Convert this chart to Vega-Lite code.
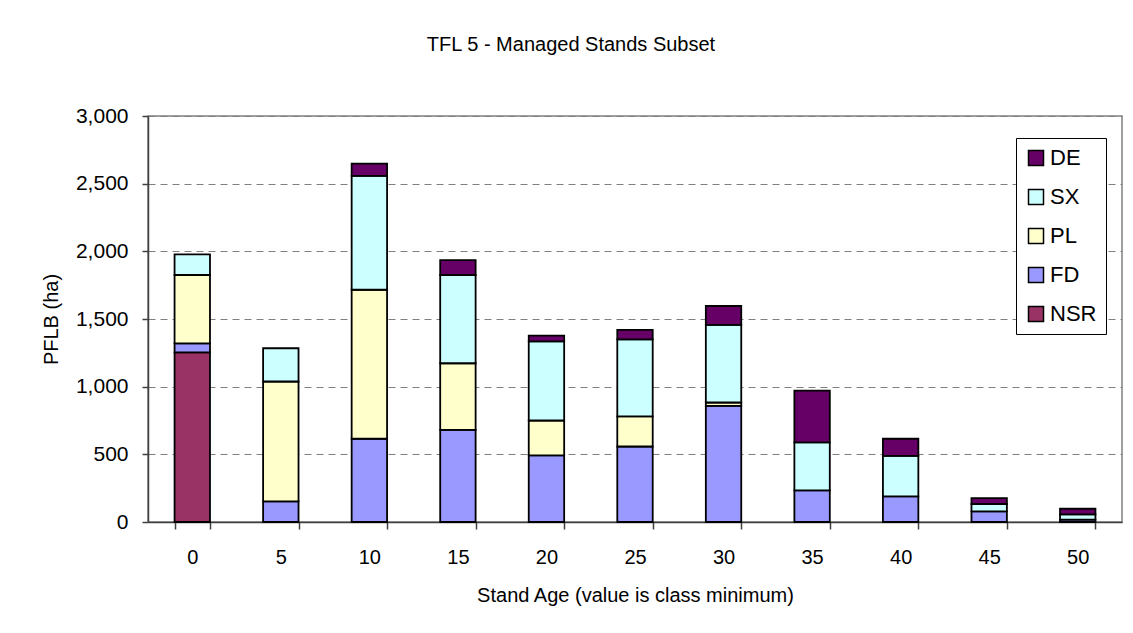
{
  "$schema": "https://vega.github.io/schema/vega-lite/v6.json",
  "autosize": {"type": "none"},
  "padding": {"left": 148, "top": 116, "right": 11, "bottom": 111},
  "width": 974,
  "height": 406,
  "background": "white",
  "config": {
    "font": "Liberation Sans",
    "view": {"stroke": "#808080", "strokeWidth": 1.5},
    "axis": {
      "labelFont": "Liberation Sans",
      "titleFont": "Liberation Sans",
      "labelColor": "black",
      "titleColor": "black",
      "titleFontWeight": "normal",
      "domainColor": "#404040",
      "domainWidth": 1.5,
      "tickColor": "#404040",
      "tickWidth": 1.5
    },
    "legend": {"labelFont": "Liberation Sans"}
  },
  "title": {
    "text": "TFL 5 - Managed Stands Subset",
    "font": "Liberation Sans",
    "fontSize": 20,
    "fontWeight": "normal",
    "color": "black",
    "frame": "group",
    "anchor": "middle",
    "dx": -64,
    "baseline": "alphabetic",
    "offset": 34
  },
  "data": {
    "values": [
      {"age": 0, "species": "NSR", "area": 1254},
      {"age": 0, "species": "FD", "area": 66},
      {"age": 0, "species": "PL", "area": 505},
      {"age": 0, "species": "SX", "area": 152},
      {"age": 5, "species": "FD", "area": 152},
      {"age": 5, "species": "PL", "area": 886},
      {"age": 5, "species": "SX", "area": 246},
      {"age": 10, "species": "FD", "area": 615},
      {"age": 10, "species": "PL", "area": 1101},
      {"age": 10, "species": "SX", "area": 841},
      {"age": 10, "species": "DE", "area": 91},
      {"age": 15, "species": "FD", "area": 681},
      {"age": 15, "species": "PL", "area": 492},
      {"age": 15, "species": "SX", "area": 652},
      {"age": 15, "species": "DE", "area": 110},
      {"age": 20, "species": "FD", "area": 492},
      {"age": 20, "species": "PL", "area": 258},
      {"age": 20, "species": "SX", "area": 585},
      {"age": 20, "species": "DE", "area": 42},
      {"age": 25, "species": "FD", "area": 558},
      {"age": 25, "species": "PL", "area": 222},
      {"age": 25, "species": "SX", "area": 570},
      {"age": 25, "species": "DE", "area": 69},
      {"age": 30, "species": "FD", "area": 858},
      {"age": 30, "species": "PL", "area": 25},
      {"age": 30, "species": "SX", "area": 573},
      {"age": 30, "species": "DE", "area": 140},
      {"age": 35, "species": "FD", "area": 234},
      {"age": 35, "species": "SX", "area": 354},
      {"age": 35, "species": "DE", "area": 383},
      {"age": 40, "species": "FD", "area": 189},
      {"age": 40, "species": "SX", "area": 300},
      {"age": 40, "species": "DE", "area": 126},
      {"age": 45, "species": "FD", "area": 78},
      {"age": 45, "species": "SX", "area": 55},
      {"age": 45, "species": "DE", "area": 44},
      {"age": 50, "species": "FD", "area": 17},
      {"age": 50, "species": "SX", "area": 39},
      {"age": 50, "species": "DE", "area": 42}
    ]
  },
  "transform": [
    {"calculate": "indexof(['NSR','FD','PL','SX','DE'], datum.species)", "as": "stackOrder"}
  ],
  "mark": {"type": "bar", "stroke": "black", "strokeWidth": 1.8, "opacity": 1},
  "encoding": {
    "x": {
      "field": "age",
      "type": "ordinal",
      "title": "Stand Age (value is class minimum)",
      "scale": {"paddingInner": 0.6, "paddingOuter": 0.3},
      "axis": {
        "labelAngle": 0,
        "labelFontSize": 20,
        "titleFontSize": 20,
        "tickBand": "extent",
        "tickSize": 7,
        "labelPadding": 18,
        "titlePadding": 18
      }
    },
    "y": {
      "field": "area",
      "type": "quantitative",
      "stack": "zero",
      "title": "PFLB (ha)",
      "scale": {"domain": [0, 3000], "nice": false},
      "axis": {
        "values": [0, 500, 1000, 1500, 2000, 2500, 3000],
        "format": ",.0f",
        "labelFontSize": 21,
        "titleFontSize": 20,
        "tickSize": 6,
        "labelPadding": 14,
        "titlePadding": 14,
        "grid": true,
        "gridColor": "#808080",
        "gridDash": [7, 5],
        "gridWidth": 1
      }
    },
    "color": {
      "field": "species",
      "type": "nominal",
      "scale": {
        "domain": ["DE", "SX", "PL", "FD", "NSR"],
        "range": ["#660066", "#CCFFFF", "#FFFFCC", "#9999FF", "#993366"]
      },
      "legend": {
        "title": null,
        "orient": "none",
        "legendX": 868,
        "legendY": 22,
        "symbolType": "square",
        "symbolSize": 225,
        "symbolStrokeColor": "black",
        "symbolStrokeWidth": 1.5,
        "symbolOpacity": 1,
        "labelFontSize": 22,
        "labelColor": "black",
        "labelOffset": 3,
        "rowPadding": 17,
        "padding": 9,
        "strokeColor": "black",
        "fillColor": "white"
      }
    },
    "order": {"field": "stackOrder", "type": "quantitative"}
  }
}
